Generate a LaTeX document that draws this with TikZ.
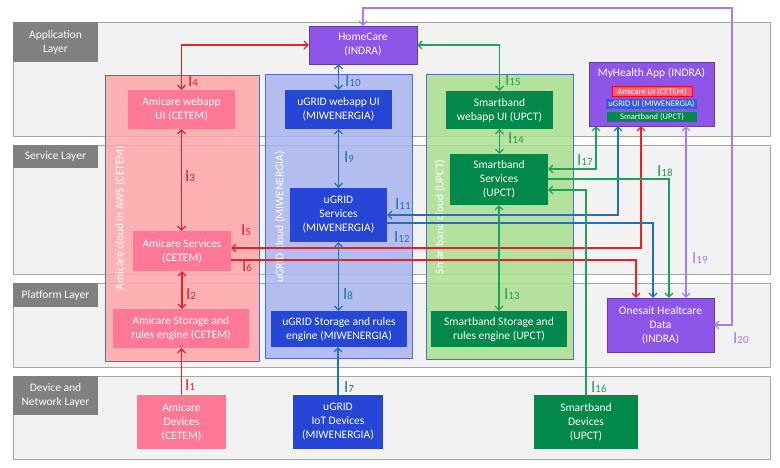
\documentclass[tikz,border=0pt]{standalone}
\usepackage{fontspec}
\setmainfont{Carlito}
\usetikzlibrary{arrows.meta}
\definecolor{layerfill}{HTML}{F2F2F2}
\definecolor{layerline}{HTML}{A6A6A6}
\definecolor{taggray}{HTML}{808080}
\definecolor{cloudline}{HTML}{4472C4}
\definecolor{amicloud}{HTML}{FFA6A9}
\definecolor{ugcloud}{HTML}{A9B4EE}
\definecolor{sbcloud}{HTML}{ABDF91}
\definecolor{amibox}{HTML}{FF7896}
\definecolor{ugbox}{HTML}{2646D6}
\definecolor{sbbox}{HTML}{00894A}
\definecolor{inbox}{HTML}{8D55E8}
\definecolor{amiline}{HTML}{E8202A}
\definecolor{ugline}{HTML}{2071B6}
\definecolor{sbline}{HTML}{1EA05B}
\definecolor{inline}{HTML}{A67BF3}
\newcommand{\ilab}[1]{{\fontsize{17}{17}\selectfont I}{\fontsize{11}{11}\selectfont #1}}

\begin{document}
\begin{tikzpicture}[x=1pt,y=-1pt,
   >={Straight Barb[length=4pt,width=8pt]},
   layer/.style={draw=layerline,fill=layerfill,line width=0.8pt},
   layertag/.style={fill=taggray,text=white,inner sep=0pt,align=center,minimum width=85pt,font=\fontsize{11.5}{14}\selectfont},
   cloud/.style={draw=cloudline,line width=0.8pt,fill opacity=0.85},
   cloudtag/.style={rotate=90,text=white,inner sep=0pt,font=\fontsize{11.5}{13}\selectfont},
   box/.style={inner sep=0pt,align=center,text=white,font=\fontsize{11.5}{14}\selectfont},
   minibox/.style={inner sep=0pt,align=center,text=white,minimum height=10.5pt,font=\fontsize{8.5}{9}\selectfont},
   link/.style={line width=1.1pt},
   lab/.style={anchor=base west,inner sep=0pt}]
   \useasboundingbox (0,0) rectangle (780,468);
   % layers
   \draw[layer] (13,22) rectangle (770,136);
   \draw[layer] (13,145) rectangle (770,274);
   \draw[layer] (13,283) rectangle (770,367);
   \draw[layer] (13,376) rectangle (770,459);
   \node[layertag,minimum height=40pt] (tagapp) at (55.5,42) {Application\\Layer};
   \node[layertag,minimum height=23pt] (tagsrv) at (55.5,156.5) {Service Layer};
   \node[layertag,minimum height=24pt] (tagplat) at (55.5,295) {Platform Layer};
   \node[layertag,minimum height=39pt] (tagdev) at (55.5,395.5) {Device and\\Network Layer};
   % clouds
   \filldraw[cloud,fill=amicloud] (105,75) rectangle (259,361);
   \filldraw[cloud,fill=ugcloud,draw=ugbox!80] (265,74) rectangle (412,358);
   \filldraw[cloud,fill=sbcloud] (426,74) rectangle (573,359);
   \node[cloudtag] (amicl) at (120,218) {Amicare cloud in AWS (CETEM)};
   \node[cloudtag] (ugcl) at (280,217) {uGRID cloud (MIWENERGIA)};
   \node[cloudtag] (sbcl) at (440,217) {Smartband cloud (UPCT)};
   % boxes
   \node[box,fill=inbox,draw=inbox!70!black,minimum width=108pt,minimum height=38pt] (homecare) at (363,45) {HomeCare\\(INDRA)};
   \node[box,fill=amibox,minimum width=107pt,minimum height=39pt] (amiweb) at (181.5,109.5) {Amicare webapp\\UI (CETEM)};
   \node[box,fill=ugbox,minimum width=107pt,minimum height=39pt] (ugweb) at (338.5,109.5) {uGRID webapp UI\\(MIWENERGIA)};
   \node[box,fill=sbbox,minimum width=107pt,minimum height=38pt] (sbweb) at (499.5,110) {Smartband\\webapp UI (UPCT)};
   \node[box,fill=inbox,draw=inbox!70!black,minimum width=125pt,minimum height=64pt] (myhealth) at (651.5,94) {};
   \node[box] (myhtitle) at (651.5,73) {MyHealth App (INDRA)};
   \node[minibox,fill=amibox!80!red,draw=red,line width=0.6pt,minimum width=80pt] (myami) at (652,91.5) {Amicare UI (CETEM)};
   \node[minibox,fill=ugbox!90!white,minimum width=91pt] (myug) at (651.5,104) {uGRID UI (MIWENERGIA)};
   \node[minibox,fill=sbbox,minimum width=90pt] (mysb) at (652,117) {Smartband (UPCT)};
   \node[box,fill=amibox,minimum width=98pt,minimum height=40pt] (amisrv) at (182,251) {Amicare Services\\(CETEM)};
   \node[box,fill=ugbox,minimum width=97pt,minimum height=54pt] (ugsrv) at (338.5,215) {uGRID\\Services\\(MIWENERGIA)};
   \node[box,fill=sbbox,minimum width=98pt,minimum height=51pt] (sbsrv) at (499,179.5) {Smartband\\Services\\(UPCT)};
   \node[box,fill=amibox,minimum width=136pt,minimum height=39pt] (amistore) at (181,328.5) {Amicare Storage and\\rules engine (CETEM)};
   \node[box,fill=ugbox,minimum width=136pt,minimum height=36pt] (ugstore) at (339,329) {uGRID Storage and rules\\engine (MIWENERGIA)};
   \node[box,fill=sbbox,minimum width=136pt,minimum height=36pt] (sbstore) at (499,329) {Smartband Storage and\\rules engine (UPCT)};
   \node[box,fill=inbox,draw=inbox!70!black,minimum width=107pt,minimum height=54pt] (onesait) at (660.5,325) {Onesait Healtcare\\Data\\(INDRA)};
   \node[box,fill=amibox,minimum width=89pt,minimum height=54pt] (amidev) at (181.5,422) {Amicare\\Devices\\(CETEM)};
   \node[box,fill=ugbox,minimum width=90pt,minimum height=54pt] (ugdev) at (338,422) {uGRID\\IoT Devices\\(MIWENERGIA)};
   \node[box,fill=sbbox,minimum width=104pt,minimum height=54pt] (sbdev) at (586,422) {Smartband\\Devices\\(UPCT)};
   % Amicare links
   \draw[link,amiline,->] (amidev.north) -- (amidev.north |- amistore.south);
   \draw[link,amiline,<->] (amisrv.south) -- (amisrv.south |- amistore.north);
   \draw[link,amiline,<->] (amiweb.south) -- (amiweb.south |- amisrv.north);
   \draw[link,amiline,<->] (amiweb.north) |- (homecare.west);
   \draw[link,amiline,<->] (641,0 |- myhealth.south) |- (amisrv.east |- 0,248);
   \draw[link,amiline,->] (amisrv.east |- 0,260) -| (636,0 |- onesait.north);
   % uGRID links
   \draw[link,ugline,->] (ugdev.north) -- (ugdev.north |- ugstore.south);
   \draw[link,ugline,<->] (ugsrv.south) -- (ugsrv.south |- ugstore.north);
   \draw[link,ugline,<->] (ugweb.south) -- (ugweb.south |- ugsrv.north);
   \draw[link,ugline,<->] (ugweb.north |- homecare.south) -- (ugweb.north);
   \draw[link,ugline,<->] (618,0 |- myhealth.south) |- (ugsrv.east);
   \draw[link,ugline,->] (ugsrv.east |- 0,223) -| (653,0 |- onesait.north);
   % Smartband links
   \draw[link,sbline,<->] (sbsrv.south) -- (sbsrv.south |- sbstore.north);
   \draw[link,sbline,<->] (sbweb.south) -- (sbweb.south |- sbsrv.north);
   \draw[link,sbline,<->] (sbweb.north) |- (homecare.east);
   \draw[link,sbline,->] (sbdev.north) |- (sbsrv.east |- 0,190);
   \draw[link,sbline,<->] (596,0 |- myhealth.south) |- (sbsrv.east |- 0,169);
   \draw[link,sbline,->] (sbsrv.east |- 0,179) -| (669,0 |- onesait.north);
   % INDRA links
   \draw[link,inline,<->] (686,0 |- myhealth.south) -- (686,0 |- onesait.north);
   \draw[link,inline,<->] (onesait.east) -| (732,8) -| (homecare.north);
   % labels
   \node[lab,text=amiline] (l1) at (185,390) {\ilab{1}};
   \node[lab,text=amiline] (l2) at (186,299) {\ilab{2}};
   \node[lab,text=amiline] (l3) at (185,182) {\ilab{3}};
   \node[lab,text=amiline] (l4) at (188,87) {\ilab{4}};
   \node[lab,text=amiline] (l5) at (241,236) {\ilab{5}};
   \node[lab,text=amiline] (l6) at (242,272) {\ilab{6}};
   \node[lab,text=ugline] (l7) at (344,392) {\ilab{7}};
   \node[lab,text=ugline] (l8) at (343,299) {\ilab{8}};
   \node[lab,text=ugline] (l9) at (344,163) {\ilab{9}};
   \node[lab,text=ugline] (l10) at (345,87) {\ilab{10}};
   \node[lab,text=ugline] (l11) at (395,210) {\ilab{11}};
   \node[lab,text=ugline] (l12) at (394,243) {\ilab{12}};
   \node[lab,text=sbline] (l13) at (504,299) {\ilab{13}};
   \node[lab,text=sbline] (l14) at (508,144) {\ilab{14}};
   \node[lab,text=sbline] (l15) at (505,86) {\ilab{15}};
   \node[lab,text=sbline] (l16) at (591,392) {\ilab{16}};
   \node[lab,text=sbline] (l17) at (577,166) {\ilab{17}};
   \node[lab,text=sbline] (l18) at (657,177) {\ilab{18}};
   \node[lab,text=inline] (l19) at (692,263) {\ilab{19}};
   \node[lab,text=inline] (l20) at (733,343) {\ilab{20}};
\end{tikzpicture}
\end{document}
